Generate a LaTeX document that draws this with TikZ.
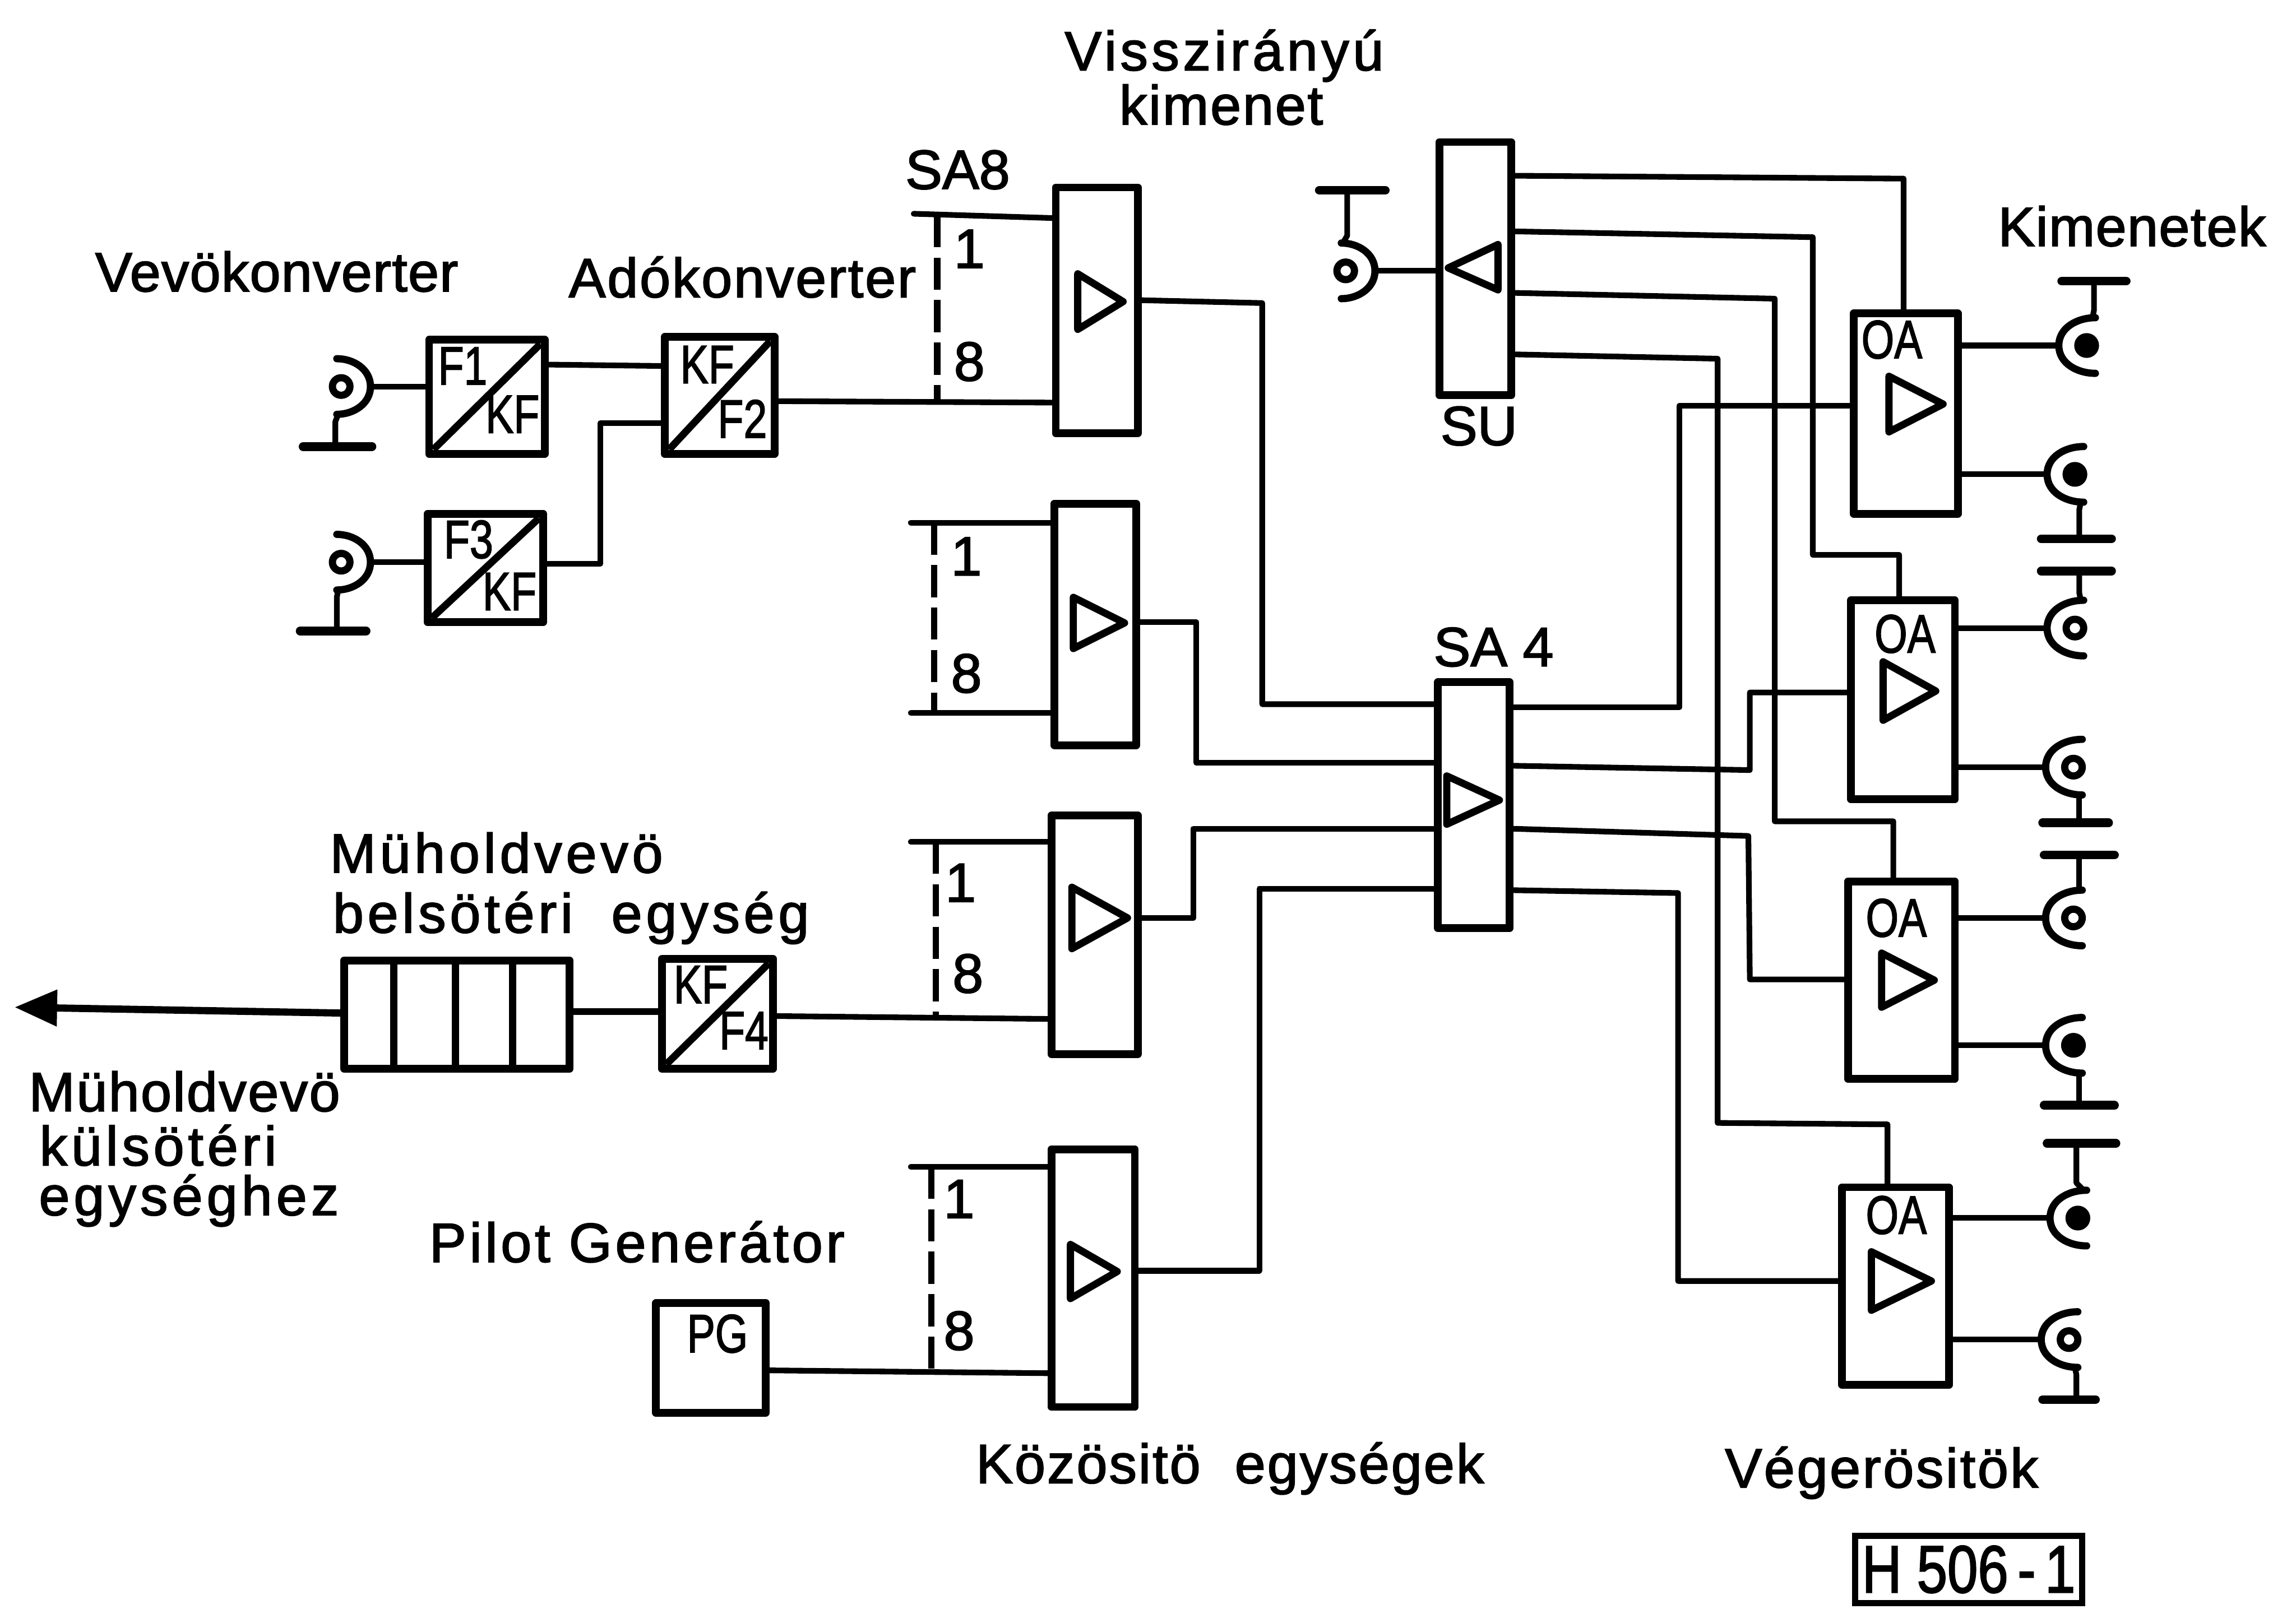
\documentclass[tikz,border=0pt]{standalone}
\usepackage{fontspec}
\usepackage{graphicx}
\usetikzlibrary{arrows.meta}
\setmainfont[FakeBold=2]{Liberation Sans}
\newcommand{\ls}[2]{{\addfontfeature{LetterSpace=#1}#2}}
\tikzset{
  wire/.style={line width=2.2pt,line join=round,line cap=round},
  blk/.style={draw,line width=3pt,inner sep=0pt,outer sep=0pt,line join=round},
  tri/.style={draw,line width=2.8pt,line join=round},
  lab/.style={inner sep=0pt,anchor=base,font=\fontsize{21.5}{26}\selectfont},
  dig/.style={inner sep=0pt,font=\fontsize{21.5}{26}\selectfont},
  inbox/.style={inner sep=0pt,font=\fontsize{21}{24}\selectfont,xscale=.78},
  cbar/.style={line width=3.4pt,line cap=round},
  carc/.style={line width=2.8pt,line cap=round,line join=round},
  cball/.style={circle,draw,line width=2.8pt,inner sep=0pt,minimum size=.24cm},
  dsh/.style={line width=2.5pt,dash pattern=on 12.5pt off 4pt},
}
\newcommand{\bx}[5]{\node[blk,minimum width={(#4-#2)*0.02cm},minimum height={(#5-#3)*0.02cm}] (#1) at ({(#2+#4)/2},{(#3+#5)/2}) {};}
\newcommand{\trir}[4]{\draw[tri] (#1,#2) -- (#1,#3) -- (#4,{(#2+#3)/2}) -- cycle;}
\newcommand{\connR}[8]{%
  \node[cball,fill=#4] (#1) at (#2,#3) {};
  \coordinate (#1w) at ({#2-19},#3);
  \draw[carc] ({#2+6},{#3-19}) to[out=180,in=90] ({#2-19},#3) to[out=-90,in=180] ({#2+6},{#3+19});
  \pgfmathsetmacro{\sgn}{(#6<#3)?-1:1}
  \draw[wire] (#5,#6) -- (#5,{#3+\sgn*24}) -- ({#2+4},{#3+\sgn*19});
  \draw[cbar] (#7,#6) -- (#8,#6);
}
\newcommand{\connL}[8]{%
  \node[cball,fill=#4] (#1) at (#2,#3) {};
  \coordinate (#1w) at ({#2+20},#3);
  \draw[carc] ({#2-3},{#3-19}) to[out=0,in=90] ({#2+20},#3) to[out=-90,in=0] ({#2-3},{#3+19});
  \pgfmathsetmacro{\sgn}{(#6<#3)?-1:1}
  \draw[wire] (#5,#6) -- (#5,{#3+\sgn*24}) -- ({#2-2},{#3+\sgn*19});
  \draw[cbar] (#7,#6) -- (#8,#6);
}
\newcommand{\conv}[5]{%
  \bx{#1}{#2}{#3}{#4}{#5}
  \draw[line width=2.8pt] ({#2+3},{#5-3}) -- ({#4-3},{#3+3});
}
\begin{document}
\begin{tikzpicture}[x=0.02cm,y=-0.02cm]
\useasboundingbox (0,0) rectangle (1568,1098.8);
\fill[white] (0,0) rectangle (1568,1098.8);

% input converters
\connL{ci1}{233}{264}{white}{229}{305}{207}{254}
\connL{ci2}{233}{384}{white}{230}{431}{205}{250}
\conv{f1}{293}{232}{372}{310}
\node[inbox] (f1a) at (316,250) {F1};
\node[inbox] (f1b) at (350,283) {KF};
\conv{f3}{292}{351}{371}{425}
\node[inbox] (f3a) at (320,368.5) {F3};
\node[inbox] (f3b) at (348,404) {KF};
\conv{f2}{454}{230}{529}{310}
\node[inbox] (f2a) at (483,249) {KF};
\node[inbox] (f2b) at (507,286) {F2};
\draw[wire] (ci1w) -- (f1.west |- ci1w);
\draw[wire] (ci2w) -- (f3.west |- ci2w);
\draw[wire] (f1.east |- 0,249) -- (f2.west |- 0,250);
\draw[wire] (f3.east |- 0,385) -- (410,385) -- (410,289) -- (f2.west |- 0,289);

% combiners SA8
\bx{a1}{721}{128}{777}{296}
\bx{a2}{720}{344}{776}{509}
\bx{a3}{718}{557}{777}{720}
\bx{a4}{718}{785}{775}{961}
\trir{736}{187}{225}{767}
\trir{733}{408}{443}{768}
\trir{732}{606}{648}{770}
\trir{731}{850}{887}{763}

\draw[wire] (624,146) -- (a1.west |- 0,149);
\draw[wire] (f2.east |- 0,274) -- (a1.west |- 0,275);
\draw[dsh] (640,147) -- (640,275);
\draw[wire] (622,357) -- (a2.west |- 0,357);
\draw[wire] (622,487) -- (a2.west |- 0,487);
\draw[dsh] (638,357) -- (638,487);
\draw[wire] (622,575) -- (a3.west |- 0,575);
\draw[dsh] (639,575) -- (639,696);
\draw[wire] (622,797) -- (a4.west |- 0,797);
\draw[dsh] (636,797) -- (636,937);

\node[dig] (n11) at (662,170) {1};
\node[dig] (n18) at (662,247) {8};
\node[dig] (n21) at (660,380) {1};
\node[dig] (n28) at (660,460) {8};
\node[dig] (n31) at (656,603) {1};
\node[dig] (n38) at (661,665) {8};
\node[dig] (n41) at (655,819) {1};
\node[dig] (n48) at (655,909) {8};

% receiver chain
\bx{reg}{235}{656}{389}{730}
\draw[line width=2.8pt] (269,656) -- (269,730) (311,656) -- (311,730) (350,656) -- (350,730);
\conv{f4}{452}{655}{528}{730}
\node[inbox] (f4a) at (478.5,672.5) {KF};
\node[inbox] (f4b) at (508,704) {F4};
\coordinate (outc) at (10,688);
\draw[wire,line width=2.8pt,-{Triangle[length=.58cm,width=.48cm]}] (reg.west |- 0,692) -- (outc);
\draw[wire,line width=2.6pt] (reg.east |- 0,691) -- (f4.west |- 0,691);
\draw[wire] (f4.east |- 0,694) -- (a3.west |- 0,696);

\bx{pg}{448}{890}{523}{965}
\node[inbox] (pgt) at (490,911) {PG};
\draw[wire] (pg.east |- 0,936) -- (a4.west |- 0,938);

% SA4
\bx{sa4}{982}{466}{1031}{634}
\trir{988}{530}{563}{1024}
\draw[wire] (a1.east |- 0,205) -- (862,207) -- (862,481) -- (sa4.west |- 0,481);
\draw[wire] (a2.east |- 0,425) -- (817,425) -- (817,521) -- (sa4.west |- 0,521);
\draw[wire] (a3.east |- 0,627) -- (815,627) -- (815,566) -- (sa4.west |- 0,566);
\draw[wire] (a4.east |- 0,868) -- (860,868) -- (860,607) -- (sa4.west |- 0,607);

% SU
\bx{su}{983}{97}{1032}{270}
\draw[tri] (989,183) -- (1023,167) -- (1023,198) -- cycle;
\connL{cs}{919}{185}{white}{920}{130}{901}{946}
\draw[wire] (csw) -- (su.west |- csw);

% end amplifiers
\bx{oa1}{1266}{214}{1337}{351}
\bx{oa2}{1264}{410}{1335}{546}
\bx{oa3}{1262}{602}{1335}{737}
\bx{oa4}{1258}{811}{1331}{946}
\trir{1290}{257}{295}{1327}
\trir{1286}{452}{492}{1322}
\trir{1285}{651}{688}{1321}
\trir{1278}{855}{895}{1319}
\node[inbox] (ot1) at (1292,232) {OA};
\node[inbox] (ot2) at (1301,433) {OA};
\node[inbox] (ot3) at (1295,627) {OA};
\node[inbox] (ot4) at (1295,830) {OA};

\draw[wire] (su.east |- 0,120) -- (1300,122) -- (oa1.north -| 1300,0);
\draw[wire] (su.east |- 0,158) -- (1238,162) -- (1238,379) -- (1297,379) -- (oa2.north -| 1297,0);
\draw[wire] (su.east |- 0,200) -- (1212,204) -- (1212,561) -- (1293,561) -- (oa3.north -| 1293,0);
\draw[wire] (su.east |- 0,242) -- (1173,245) -- (1173,767) -- (1289,768) -- (oa4.north -| 1289,0);

\draw[wire] (sa4.east |- 0,483) -- (1147,483) -- (1147,277) -- (oa1.west |- 0,277);
\draw[wire] (sa4.east |- 0,523) -- (1195,526) -- (1195,473) -- (oa2.west |- 0,473);
\draw[wire] (sa4.east |- 0,566) -- (1194,571) -- (1195,669) -- (oa3.west |- 0,669);
\draw[wire] (sa4.east |- 0,608) -- (1146,610) -- (1146,875) -- (oa4.west |- 0,875);

% output connectors
\connR{c1}{1425}{236}{black}{1430}{192}{1408}{1452}
\connR{c2}{1417}{324}{black}{1420}{368}{1394}{1442}
\connR{c3}{1417}{429}{white}{1420}{390}{1394}{1442}
\connR{c4}{1416}{524}{white}{1420}{562}{1395}{1440}
\connR{c5}{1416}{627}{white}{1420}{584}{1396}{1444}
\connR{c6}{1416}{714}{black}{1420}{755}{1396}{1444}
\connR{c7}{1419}{832}{black}{1418}{781}{1398}{1445}
\connR{c8}{1413}{915}{white}{1418}{956}{1395}{1431}
\draw[wire] (oa1.east |- c1w) -- (c1w);
\draw[wire] (oa1.east |- c2w) -- (c2w);
\draw[wire] (oa2.east |- c3w) -- (c3w);
\draw[wire] (oa2.east |- c4w) -- (c4w);
\draw[wire] (oa3.east |- c5w) -- (c5w);
\draw[wire] (oa3.east |- c6w) -- (c6w);
\draw[wire] (oa4.east |- c7w) -- (c7w);
\draw[wire] (oa4.east |- c8w) -- (c8w);

% labels
\node[lab] (t1) at (836,48) {\ls{6.7}{Visszirányú}};
\node[lab] (t2) at (834,85) {\ls{3}{kimenet}};
\node[lab] (t3) at (654,129) {SA8};
\node[lab] (t4) at (1456,168) {\ls{1.5}{Kimenetek}};
\node[lab] (t5) at (189,199) {\ls{1.4}{Vevökonverter}};
\node[lab] (t6) at (507,203) {\ls{3}{Adókonverter}};
\node[lab] (t7) at (1010,304) {SU};
\node[lab] (t8) at (1020,455) {SA 4};
\node[lab] (t9) at (339,596) {\ls{7}{Müholdvevö}};
\node[lab] (t10) at (390,637) {\ls{7}{belsötéri\ \ egység}};
\node[lab] (t11) at (126,759) {\ls{2.6}{Müholdvevö}};
\node[lab] (t12) at (108,796) {\ls{7}{külsötéri}};
\node[lab] (t13) at (129,830) {\ls{7.3}{egységhez}};
\node[lab] (t14) at (435,862) {\ls{6}{Pilot Generátor}};
\node[lab] (t15) at (840,1013) {\ls{3.2}{Közösitö\ \ egységek}};
\node[lab] (t16) at (1285,1016) {\ls{3.8}{Végerösitök}};
\node[draw,line width=2.4pt,inner sep=0pt,outer sep=0pt,minimum width={155*0.02cm},minimum height={46*0.02cm},font=\fontsize{26}{28}\selectfont] (h) at (1344.5,1072) {\scalebox{.82}[1]{H 506\,-\,1}};
\end{tikzpicture}
\end{document}
